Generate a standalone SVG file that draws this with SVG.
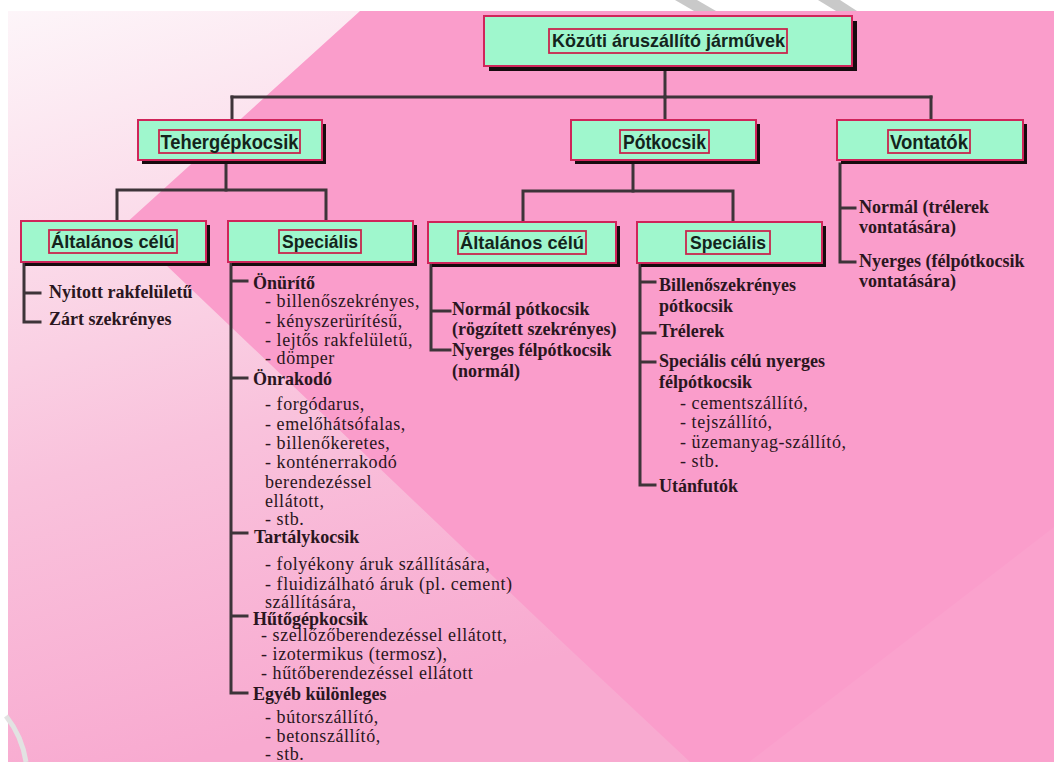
<svg xmlns="http://www.w3.org/2000/svg" width="1054" height="762" viewBox="0 0 1054 762">
<defs>
<linearGradient id="lightGrad" x1="0" y1="0" x2="0.25" y2="1">
<stop offset="0" stop-color="#fdf5f9"/>
<stop offset="0.3" stop-color="#fbdcea"/>
<stop offset="0.6" stop-color="#f9c2dc"/>
<stop offset="1" stop-color="#f8aad0"/>
</linearGradient>
<style>
.sh{fill:#160a0e}
.box{fill:#9ff7cd;stroke:#d0245a;stroke-width:2}
.in{fill:none;stroke:#c8264e;stroke-width:1.8}
.lbl{font-family:"Liberation Sans",Arial,sans-serif;font-weight:bold;fill:#14241c;text-anchor:middle}
.l2{font-size:20px}
.l3{font-size:18.5px}
.conn{stroke:#3d3439;stroke-width:3;fill:none;stroke-linejoin:miter;stroke-linecap:square}
.b{font-family:"Liberation Serif","Times New Roman",serif;font-weight:bold;font-size:18px;fill:#2a1620}
.r{font-family:"Liberation Serif","Times New Roman",serif;font-size:18px;letter-spacing:0.55px;fill:#2a1620}
</style>
</defs>

<!-- background -->
<rect x="0" y="0" width="1054" height="762" fill="#ffffff"/>
<rect x="8" y="11" width="1046" height="751" fill="#fa9dcb"/>
<polygon points="8,11 360,11 124,225 560,640 690,762 8,762" fill="url(#lightGrad)"/>
<polygon points="1054,527 749,762 1054,762" fill="#ffffff" opacity="0.05"/>
<polygon points="675,0 697,0 716,11 694,11" fill="#c9c9c9"/>
<polygon points="818,0 840,0 857,11 836,11" fill="#c9c9c9"/>
<path d="M6,716 Q22,736 26,762" fill="none" stroke="#e2e2e2" stroke-width="5"/>

<!-- connectors -->
<g id="connectors" class="conn">
<path d="M665,72 V97"/>
<path d="M232,97 H931"/>
<path d="M232,97 V120 M665,97 V120 M931,97 V120"/>
<path d="M226,164 V190"/>
<path d="M117,190 H326 M117,190 V221 M326,190 V221"/>
<path d="M633,164 V191"/>
<path d="M523,191 H733 M523,191 V222 M733,191 V222"/>
<path d="M840,164 V262 H855 M840,208 H855"/>
<path d="M24,264 V322 H40 M24,293 H40"/>
<path d="M231,264 V693 H247 M231,281 H247 M231,378 H247 M231,533 H247 M231,616 H247"/>
<path d="M431,264 V350 H450 M431,311 H450"/>
<path d="M640,264 V485 H655 M640,282 H655 M640,333 H655 M640,362 H655"/>
</g>

<!-- root -->
<g id="node-root">
<rect class="sh" x="489" y="21" width="368" height="50"/>
<rect class="box" x="484" y="16" width="368" height="50"/>
<rect class="in" x="549" y="29" width="238" height="24"/>
<text class="lbl" x="668.5" y="47" font-size="18.5" textLength="233" lengthAdjust="spacingAndGlyphs">Közúti áruszállító járművek</text>
</g>

<g id="node-tehergepkocsik">
<rect class="sh" x="142" y="124" width="184" height="40"/>
<rect class="box" x="138" y="120" width="184" height="40"/>
<rect class="in" x="159" y="130" width="141" height="23"/>
<text class="lbl l2" x="229.5" y="148.5" textLength="138" lengthAdjust="spacingAndGlyphs">Tehergépkocsik</text>
</g>

<g id="node-potkocsik">
<rect class="sh" x="575" y="124" width="185" height="40"/>
<rect class="box" x="571" y="120" width="185" height="40"/>
<rect class="in" x="620" y="130" width="89" height="23"/>
<text class="lbl l2" x="664.5" y="148.5" textLength="83" lengthAdjust="spacingAndGlyphs">Pótkocsik</text>
</g>

<g id="node-vontatok">
<rect class="sh" x="841" y="124" width="186" height="40"/>
<rect class="box" x="837" y="120" width="186" height="40"/>
<rect class="in" x="888" y="130" width="82" height="23"/>
<text class="lbl l2" x="929" y="148.5" textLength="78" lengthAdjust="spacingAndGlyphs">Vontatók</text>
</g>

<g id="node-teher-altalanos">
<rect class="sh" x="25" y="225" width="185" height="41"/>
<rect class="box" x="21" y="221" width="185" height="41"/>
<rect class="in" x="49" y="230" width="128" height="23"/>
<text class="lbl l3" x="113" y="248" textLength="124" lengthAdjust="spacingAndGlyphs">Általános célú</text>
</g>

<g id="node-teher-specialis">
<rect class="sh" x="232" y="225" width="185" height="41"/>
<rect class="box" x="228" y="221" width="185" height="41"/>
<rect class="in" x="279" y="230" width="82" height="23"/>
<text class="lbl l3" x="320" y="248" textLength="76" lengthAdjust="spacingAndGlyphs">Speciális</text>
</g>

<g id="node-pot-altalanos">
<rect class="sh" x="432" y="226" width="188" height="41"/>
<rect class="box" x="428" y="222" width="188" height="41"/>
<rect class="in" x="458" y="231" width="128" height="23"/>
<text class="lbl l3" x="522" y="249" textLength="124" lengthAdjust="spacingAndGlyphs">Általános célú</text>
</g>

<g id="node-pot-specialis">
<rect class="sh" x="641" y="226" width="185" height="41"/>
<rect class="box" x="637" y="222" width="185" height="41"/>
<rect class="in" x="686" y="231" width="84" height="23"/>
<text class="lbl l3" x="728" y="249" textLength="76" lengthAdjust="spacingAndGlyphs">Speciális</text>
</g>

<!-- lists -->
<g id="list-teher-altalanos">
<text class="b" x="49" y="298">Nyitott rakfelületű</text>
<text class="b" x="49" y="325">Zárt szekrényes</text>
</g>

<g id="list-teher-specialis">
<text class="b" x="253" y="289">Önürítő</text>
<text class="r" x="265" y="307">- billenőszekrényes,</text>
<text class="r" x="265" y="327">- kényszerürítésű,</text>
<text class="r" x="265" y="346">- lejtős rakfelületű,</text>
<text class="r" x="265" y="364">- dömper</text>
<text class="b" x="253" y="385">Önrakodó</text>
<text class="r" x="265" y="410">- forgódarus,</text>
<text class="r" x="265" y="430">- emelőhátsófalas,</text>
<text class="r" x="265" y="449">- billenőkeretes,</text>
<text class="r" x="265" y="468">- konténerrakodó</text>
<text class="r" x="265" y="488">berendezéssel</text>
<text class="r" x="265" y="507">ellátott,</text>
<text class="r" x="265" y="525">- stb.</text>
<text class="b" x="254" y="543">Tartálykocsik</text>
<text class="r" x="265" y="570">- folyékony áruk szállítására,</text>
<text class="r" x="265" y="590">- fluidizálható áruk (pl. cement)</text>
<text class="r" x="265" y="608">szállítására,</text>
<text class="b" x="253" y="625">Hűtőgépkocsik</text>
<text class="r" x="261" y="641">- szellőzőberendezéssel ellátott,</text>
<text class="r" x="261" y="660">- izotermikus (termosz),</text>
<text class="r" x="261" y="679">- hűtőberendezéssel ellátott</text>
<text class="b" x="253" y="700">Egyéb különleges</text>
<text class="r" x="265" y="723">- bútorszállító,</text>
<text class="r" x="265" y="742">- betonszállító,</text>
<text class="r" x="265" y="760">- stb.</text>
</g>

<g id="list-pot-altalanos">
<text class="b" x="452" y="315">Normál pótkocsik</text>
<text class="b" x="452" y="335">(rögzített szekrényes)</text>
<text class="b" x="452" y="356">Nyerges félpótkocsik</text>
<text class="b" x="452" y="377">(normál)</text>
</g>

<g id="list-pot-specialis">
<text class="b" x="659" y="291">Billenőszekrényes</text>
<text class="b" x="659" y="312">pótkocsik</text>
<text class="b" x="659" y="337">Trélerek</text>
<text class="b" x="659" y="367">Speciális célú nyerges</text>
<text class="b" x="659" y="388">félpótkocsik</text>
<text class="r" x="680" y="409">- cementszállító,</text>
<text class="r" x="680" y="428">- tejszállító,</text>
<text class="r" x="680" y="448">- üzemanyag-szállító,</text>
<text class="r" x="680" y="467">- stb.</text>
<text class="b" x="659" y="492">Utánfutók</text>
</g>

<g id="list-vontatok">
<text class="b" x="859" y="213">Normál (trélerek</text>
<text class="b" x="859" y="233">vontatására)</text>
<text class="b" x="859" y="267">Nyerges (félpótkocsik</text>
<text class="b" x="859" y="287">vontatására)</text>
</g>
</svg>
